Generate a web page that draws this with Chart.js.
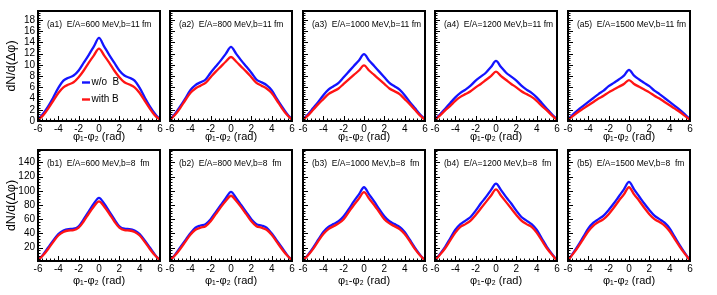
<!DOCTYPE html>
<html>
<head>
<meta charset="utf-8">
<script src="https://cdn.jsdelivr.net/npm/chart.js@4.4.1/dist/chart.umd.min.js"></script>
<style>
    html, body { margin: 0; padding: 0; background: #fff; }
    #wrap { position: relative; width: 717px; height: 295px; overflow: hidden; }
    #wrap canvas { position: absolute; }
</style>
</head>
<body>
<div id="wrap"></div>
<script>
// --- data ---
const xVals = [-6, -5.5, -5, -4.5, -4, -3.5, -3, -2.5, -2, -1.5, -1, -0.5, 0, 0.5, 1, 1.5, 2, 2.5, 3, 3.5, 4, 4.5, 5, 5.5, 6];

const xTicks = [-6, -4, -2, 0, 2, 4, 6];
const topYTicks = [0, 2, 4, 6, 8, 10, 12, 14, 16, 18];
const bottomYTicks = [20, 40, 60, 80, 100, 120, 140];

const topLabels = ['(a1)  E/A=600 MeV,b=11 fm', '(a2)  E/A=800 MeV,b=11 fm', '(a3)  E/A=1000 MeV,b=11 fm', '(a4)  E/A=1200 MeV,b=11 fm', '(a5)  E/A=1500 MeV,b=11 fm'];
const bottomLabels = ['(b1)  E/A=600 MeV,b=8  fm', '(b2)  E/A=800 MeV,b=8  fm', '(b3)  E/A=1000 MeV,b=8  fm', '(b4)  E/A=1200 MeV,b=8  fm', '(b5)  E/A=1500 MeV,b=8  fm'];
const seriesNames = ['w/o  B', 'with B'];

// b = 11 fm
const a1Blue = [0.3, 1.3, 2.6, 4.2, 5.9, 7.2, 7.7, 8.1, 9.0, 10.4, 11.8, 13.3, 14.8, 13.3, 11.8, 10.4, 9.0, 8.1, 7.7, 7.2, 5.9, 4.2, 2.6, 1.3, 0.3];
const a1Red  = [0.2, 1.0, 2.2, 3.6, 5.0, 6.0, 6.5, 6.9, 7.8, 9.0, 10.4, 11.7, 12.9, 11.7, 10.4, 9.0, 7.8, 6.9, 6.5, 6.0, 5.0, 3.6, 2.2, 1.0, 0.2];
const a2Blue = [0.3, 1.3, 2.6, 4.0, 5.5, 6.4, 6.9, 7.4, 8.6, 9.7, 10.8, 12.0, 13.2, 12.0, 10.8, 9.7, 8.6, 7.4, 6.9, 6.4, 5.5, 4.0, 2.6, 1.3, 0.3];
const a2Red  = [0.2, 1.1, 2.3, 3.7, 5.0, 5.8, 6.3, 6.8, 7.8, 8.8, 9.7, 10.6, 11.4, 10.6, 9.7, 8.8, 7.8, 6.8, 6.3, 5.8, 5.0, 3.7, 2.3, 1.1, 0.2];
const a3Blue = [0.3, 1.2, 2.3, 3.4, 4.6, 5.6, 6.2, 6.8, 7.8, 8.8, 9.8, 10.8, 11.9, 10.8, 9.8, 8.8, 7.8, 6.8, 6.2, 5.6, 4.6, 3.4, 2.3, 1.2, 0.3];
const a3Red  = [0.2, 1.0, 2.0, 3.0, 3.9, 4.8, 5.3, 5.8, 6.6, 7.4, 8.2, 9.0, 9.9, 9.0, 8.2, 7.4, 6.6, 5.8, 5.3, 4.8, 3.9, 3.0, 2.0, 1.0, 0.2];
const a4Blue = [0.3, 1.2, 2.2, 3.2, 4.2, 5.0, 5.6, 6.3, 7.2, 7.9, 8.6, 9.6, 10.7, 9.6, 8.6, 7.9, 7.2, 6.3, 5.6, 5.0, 4.2, 3.2, 2.2, 1.2, 0.3];
const a4Red  = [0.2, 1.0, 1.9, 2.7, 3.6, 4.3, 4.8, 5.3, 6.0, 6.6, 7.3, 8.0, 8.8, 8.0, 7.3, 6.6, 6.0, 5.3, 4.8, 4.3, 3.6, 2.7, 1.9, 1.0, 0.2];
const a5Blue = [0.3, 1.2, 2.0, 2.7, 3.4, 4.1, 4.8, 5.4, 6.2, 6.8, 7.4, 8.1, 9.1, 8.1, 7.4, 6.8, 6.2, 5.4, 4.8, 4.1, 3.4, 2.7, 2.0, 1.2, 0.3];
const a5Red  = [0.2, 0.9, 1.6, 2.2, 2.8, 3.4, 4.0, 4.5, 5.1, 5.6, 6.1, 6.6, 7.3, 6.6, 6.1, 5.6, 5.1, 4.5, 4.0, 3.4, 2.8, 2.2, 1.6, 0.9, 0.2];

// b = 8 fm
const b1Blue = [2, 10, 20, 30, 39, 44, 46, 46.5, 50, 60, 71, 82, 90, 82, 71, 60, 50, 46.5, 46, 44, 39, 30, 20, 10, 2];
const b1Red  = [2, 9, 18, 28, 37, 42, 44, 44.5, 48, 57, 68, 78, 85, 78, 68, 57, 48, 44.5, 44, 42, 37, 28, 18, 9, 2];
const b2Blue = [2, 10, 20, 30, 40, 48, 51, 53, 60, 70, 80, 90, 98.5, 90, 80, 70, 60, 53, 51, 48, 40, 30, 20, 10, 2];
const b2Red  = [2, 9, 18, 28, 38, 45, 48, 50, 57, 67, 77, 86, 93, 86, 77, 67, 57, 50, 48, 45, 38, 28, 18, 9, 2];
const b3Blue = [2, 10, 20, 31, 42, 49, 53, 57, 64, 74, 85, 95, 105, 95, 85, 74, 64, 57, 53, 49, 42, 31, 20, 10, 2];
const b3Red  = [2, 9, 18, 29, 39, 46, 50, 54, 60, 70, 80, 89, 98, 89, 80, 70, 60, 54, 50, 46, 39, 29, 18, 9, 2];
const b4Blue = [2, 11, 21, 33, 45, 53, 58, 63, 72, 82, 91, 101, 110, 101, 91, 82, 72, 63, 58, 53, 45, 33, 21, 11, 2];
const b4Red  = [2, 10, 19, 30, 41, 49, 53, 58, 66, 75, 84, 93, 102, 93, 84, 75, 66, 58, 53, 49, 41, 30, 19, 10, 2];
const b5Blue = [2, 12, 23, 35, 47, 55, 60, 65, 73, 82, 92, 102, 112.5, 102, 92, 82, 73, 65, 60, 55, 47, 35, 23, 12, 2];
const b5Red  = [2, 11, 21, 32, 43, 51, 56, 60, 67, 76, 86, 95, 105, 95, 86, 76, 67, 60, 56, 51, 43, 32, 21, 11, 2];

const topBlue = [a1Blue, a2Blue, a3Blue, a4Blue, a5Blue];
const topRed = [a1Red, a2Red, a3Red, a4Red, a5Red];
const bottomBlue = [b1Blue, b2Blue, b3Blue, b4Blue, b5Blue];
const bottomRed = [b1Red, b2Red, b3Red, b4Red, b5Red];

// --- look ---
const FONT = '"Liberation Sans", Arial, Helvetica, sans-serif';
const BLUE = 'rgb(20, 20, 255)';
const RED = 'rgb(255, 20, 20)';
Chart.defaults.font.family = FONT;
Chart.defaults.color = '#000';

const rows = [
    { top: 11, h: 110, padB: 23, yMin: 0, yMax: 19.6, yTicks: topYTicks, minorStep: 0.4, labels: topLabels, blue: topBlue, red: topRed },
    { top: 150, h: 111, padB: 27, yMin: 1, yMax: 157.5, yTicks: bottomYTicks, minorStep: 4, labels: bottomLabels, blue: bottomBlue, red: bottomRed }
];
const FRAME_W = 122;
const PAD_T = 12, PAD_R = 10;

// frame, inner ticks, panel label, legend
const rootStyle = {
    id: 'rootStyle',
    afterDatasetsDraw(chart, args, opts) {
        const { ctx, chartArea: a, scales: { x, y } } = chart;
        ctx.save();
        ctx.strokeStyle = '#000';
        ctx.lineWidth = 1;
        ctx.beginPath();
        for (let k = 0; k <= 30; k++) {
            const px = Math.round(x.getPixelForValue(-6 + k * 0.4)) + 0.5;
            ctx.moveTo(px, a.bottom);
            ctx.lineTo(px, a.bottom - (k % 5 === 0 ? 5 : 2.5));
        }
        for (let k = 0; k * opts.minorStep <= y.max; k++) {
            const v = k * opts.minorStep;
            if (v < y.min) continue;
            const py = Math.round(y.getPixelForValue(v)) + 0.5;
            ctx.moveTo(a.left, py);
            ctx.lineTo(a.left + (k % 5 === 0 ? 5 : 2.5), py);
        }
        ctx.stroke();

        ctx.lineWidth = 2;
        ctx.strokeRect(a.left, a.top, a.right - a.left, a.bottom - a.top);

        ctx.fillStyle = '#000';
        ctx.font = '8.5px ' + FONT;
        ctx.textBaseline = 'middle';
        ctx.fillText(opts.label, a.left + 9, a.top + 13.5);

        if (opts.legend) {
            const ds = chart.data.datasets;
            const items = [ds[1], ds[0]];
            ctx.font = '10px ' + FONT;
            items.forEach((d, i) => {
                const ly = a.top + 71.5 + i * 17;
                ctx.strokeStyle = d.borderColor;
                ctx.lineWidth = 2.4;
                ctx.beginPath();
                ctx.moveTo(a.left + 44, ly);
                ctx.lineTo(a.left + 52, ly);
                ctx.stroke();
                ctx.fillText(d.label, a.left + 53.5, ly);
            });
        }
        ctx.restore();
    }
};

const wrap = document.getElementById('wrap');

rows.forEach((row, r) => {
    for (let c = 0; c < 5; c++) {
        const frameLeft = Math.round(38 + c * 132.4);
        const padL = c === 0 ? 38 : 14;
        const canvas = document.createElement('canvas');
        canvas.width = padL + FRAME_W + PAD_R;
        canvas.height = PAD_T + row.h + row.padB;
        canvas.style.left = (frameLeft - padL) + 'px';
        canvas.style.top = (row.top - PAD_T) + 'px';
        wrap.appendChild(canvas);

        new Chart(canvas, {
            type: 'line',
            data: {
                datasets: [
                    {
                        label: seriesNames[1],
                        data: xVals.map((v, i) => ({ x: v, y: row.red[c][i] })),
                        borderColor: RED, borderWidth: 2.3, pointRadius: 0,
                        cubicInterpolationMode: 'monotone', order: 0
                    },
                    {
                        label: seriesNames[0],
                        data: xVals.map((v, i) => ({ x: v, y: row.blue[c][i] })),
                        borderColor: BLUE, borderWidth: 2.3, pointRadius: 0,
                        cubicInterpolationMode: 'monotone', order: 1
                    }
                ]
            },
            options: {
                responsive: false,
                animation: false,
                devicePixelRatio: 1,
                layout: { padding: { left: 0, right: PAD_R, top: PAD_T, bottom: 0 } },
                plugins: {
                    legend: { display: false },
                    tooltip: { enabled: false },
                    rootStyle: { label: row.labels[c], legend: r === 0 && c === 0, minorStep: row.minorStep }
                },
                scales: {
                    x: {
                        type: 'linear', min: -6, max: 6,
                        afterBuildTicks: s => { s.ticks = xTicks.map(v => ({ value: v })); },
                        afterFit: s => { s.height = row.padB; },
                        grid: { display: false, drawTicks: false },
                        border: { display: false },
                        ticks: { padding: 2, autoSkip: false, maxRotation: 0, font: { size: 10 }, color: '#000' },
                        title: { display: true, text: 'φ₁-φ₂ (rad)', padding: 0, font: { size: 11 }, color: '#000' }
                    },
                    y: {
                        min: row.yMin, max: row.yMax,
                        afterBuildTicks: s => { s.ticks = row.yTicks.map(v => ({ value: v })); },
                        afterFit: s => { s.width = padL; },
                        grid: { display: false, drawTicks: false },
                        border: { display: false },
                        ticks: { display: c === 0, autoSkip: false, padding: 3, font: { size: 10 }, color: '#000' },
                        title: { display: c === 0, text: 'dN/d(Δφ)', padding: { top: 4.5, bottom: 0 }, font: { size: 12.5 }, color: '#000' }
                    }
                }
            },
            plugins: [rootStyle]
        });
    }
});
</script>
</body>
</html>
